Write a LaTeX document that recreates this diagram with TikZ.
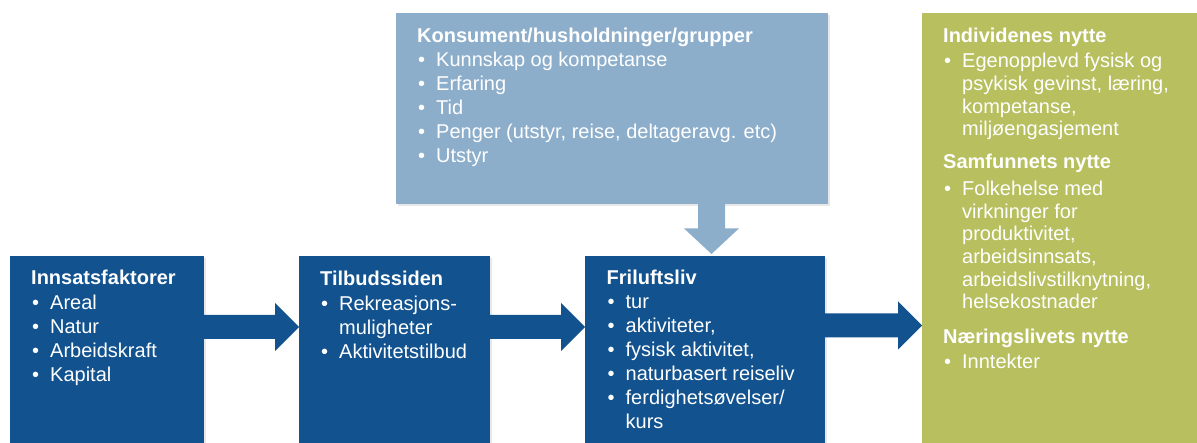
\documentclass[tikz,border=0pt]{standalone}
\usepackage{fontspec}
\setmainfont{Liberation Sans}
\usetikzlibrary{positioning,calc,shadows}

\definecolor{boxblue}{HTML}{11528F}
\definecolor{paleblue}{HTML}{8CAECB}
\definecolor{nyttegreen}{HTML}{B7BF5F}

\newcommand{\blt}{\makebox[19pt][l]{\hspace{1pt}\textbullet}}
\newcommand{\cont}{\hspace*{19pt}}

\begin{document}
\begin{tikzpicture}[
  x=1pt, y=-1pt,
  panel/.style={anchor=north west, inner sep=0pt,
                drop shadow={shadow xshift=2pt, shadow yshift=-2pt, opacity=0.18}},
  dark/.style={panel, fill=boxblue, minimum height=200pt},
  pale/.style={panel, fill=paleblue},
  gbox/.style={panel, fill=nyttegreen},
  txt/.style={inner sep=0pt, align=left, text=white,
              font=\fontsize{20}{24}\selectfont},
  gtxt/.style={txt, font=\fontsize{20}{22.7}\selectfont},
]
\useasboundingbox (0,0) rectangle (1197,443);

% boxes
\node[dark, minimum width=194pt] (inn)  at (10,256)  {};
\node[dark, minimum width=191pt] (tilb) at (299,256) {};
\node[dark, minimum width=240pt] (fri)  at (585,256) {};
\node[pale, minimum width=432pt, minimum height=191pt] (kons) at (396,13) {};
\node[gbox, minimum width=300pt, minimum height=450pt] (nytte) at (922,13) {};

% texts
\node[txt, below right=12pt and 21pt of inn.north west] (inn-t)
  {\rule{0pt}{16pt}\textbf{Innsatsfaktorer}\\[1pt]
   \blt Areal\\ \blt Natur\\ \blt Arbeidskraft\\ \blt Kapital};
\node[txt, below right=13pt and 21pt of tilb.north west] (tilb-t)
  {\rule{0pt}{16pt}\textbf{Tilbudssiden}\\[1pt]
   \blt Rekreasjons-\\ \cont muligheter\\ \blt Aktivitetstilbud};
\node[txt, below right=12pt and 21.5pt of fri.north west] (fri-t)
  {\rule{0pt}{16pt}\textbf{Friluftsliv}\\[0pt]
   \blt tur\\ \blt aktiviteter,\\ \blt fysisk aktivitet,\\
   \blt naturbasert reiseliv\\ \blt ferdighetsøvelser/\\ \cont kurs};
\node[txt, below right=13pt and 21pt of kons.north west] (kons-t)
  {\rule{0pt}{16pt}\textbf{Konsument/husholdninger/grupper}\\
   \blt Kunnskap og kompetanse\\ \blt Erfaring\\ \blt Tid\\
   \blt Penger (utstyr, reise, deltageravg. etc)\\ \blt Utstyr};
\node[gtxt, below right=13pt and 21pt of nytte.north west] (nytte-t)
  {\rule{0pt}{16pt}\textbf{Individenes nytte}\\[3pt]
   \blt Egenopplevd fysisk og\\ \cont psykisk gevinst, læring,\\
   \cont kompetanse,\\ \cont miljøengasjement\\[10pt]
   \textbf{Samfunnets nytte}\\[4pt]
   \blt Folkehelse med\\ \cont virkninger for\\ \cont produktivitet,\\
   \cont arbeidsinnsats,\\ \cont arbeidslivstilknytning,\\ \cont helsekostnader\\[12pt]
   \textbf{Næringslivets nytte}\\[2pt]
   \blt Inntekter};

% block arrows
\coordinate (mid)  at (0,327);
\coordinate (mid2) at (0,325.5);
\foreach \a/\b/\y in {inn/tilb/mid, tilb/fri/mid, fri/nytte/mid2}{
  \fill[boxblue] ($(\a.east |- \y)+(-1,-12)$) -- ($(\b.west |- \y)+(-24,-12)$)
    -- ($(\b.west |- \y)+(-24,-24)$) -- (\b.west |- \y)
    -- ($(\b.west |- \y)+(-24,24)$) -- ($(\b.west |- \y)+(-24,12)$)
    -- ($(\a.east |- \y)+(-1,12)$) -- cycle;
}
\coordinate (dn) at (711.5,0);
\fill[paleblue] ($(kons.south -| dn)+(-13.5,-1)$) -- ($(kons.south -| dn)+(-13.5,24)$)
  -- ($(kons.south -| dn)+(-27.5,24)$) -- ($(fri.north -| dn)+(0,-2)$)
  -- ($(kons.south -| dn)+(27.5,24)$) -- ($(kons.south -| dn)+(13.5,24)$)
  -- ($(kons.south -| dn)+(13.5,-1)$) -- cycle;
\end{tikzpicture}
\end{document}
